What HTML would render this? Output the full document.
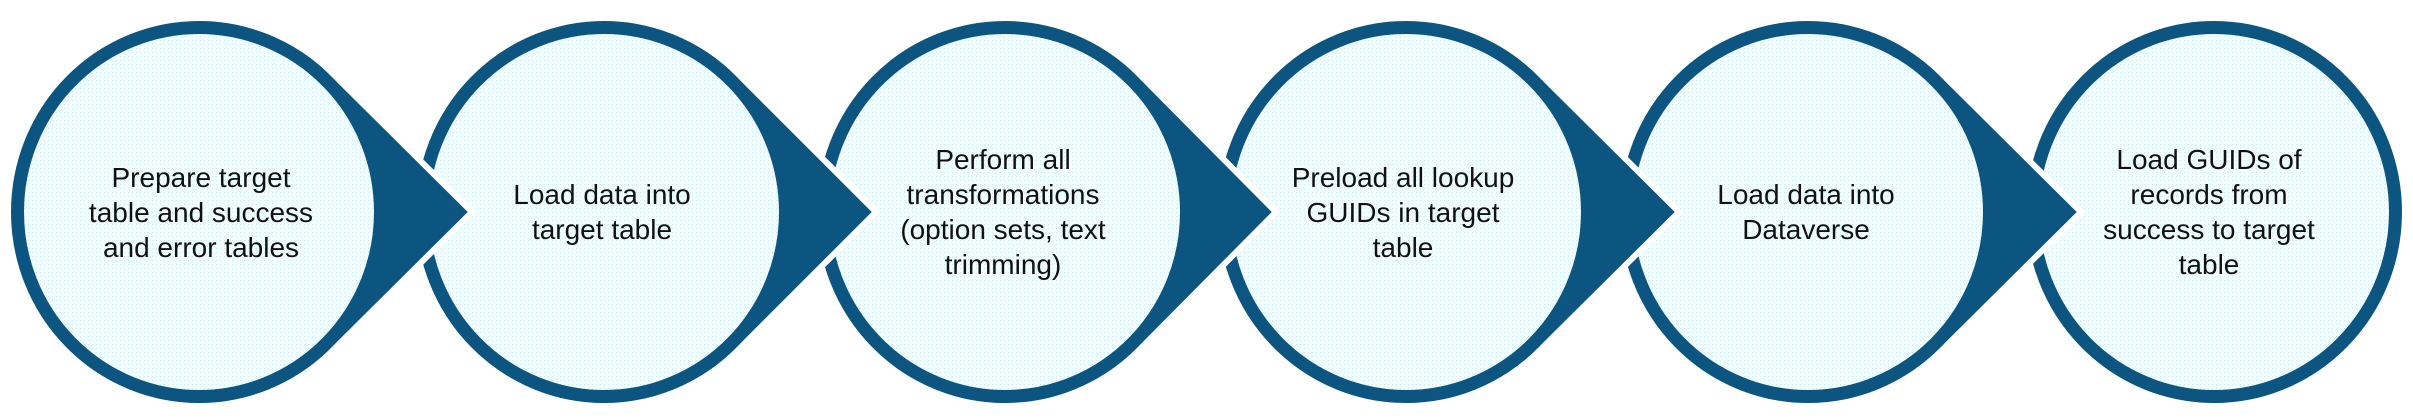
<!DOCTYPE html>
<html><head><meta charset="utf-8"><style>
html,body{margin:0;padding:0;background:#fff;width:2413px;height:420px;overflow:hidden}
svg{display:block}
text{font-family:"Liberation Sans",sans-serif;font-size:28px;fill:#111;text-anchor:middle}
</style></head><body>
<svg width="2413" height="420" viewBox="0 0 2413 420" xmlns="http://www.w3.org/2000/svg">
<defs>
<pattern id="dots" width="4" height="4" patternUnits="userSpaceOnUse">
<rect width="4" height="4" fill="#f3fbfd"/><rect width="1" height="1" fill="#c9eef7"/>
</pattern>
</defs>
<ellipse cx="2214" cy="212" rx="181.5" ry="184.5" fill="url(#dots)" stroke="#0b5580" stroke-width="13"/>

<polygon points="1940,72 2081,212 1940,352" fill="#0b5580" stroke="#fff" stroke-width="6"/>
<ellipse cx="1808" cy="212" rx="181.5" ry="184.5" fill="url(#dots)" stroke="#0b5580" stroke-width="13"/>

<polygon points="1538,72 1679,212 1538,352" fill="#0b5580" stroke="#fff" stroke-width="6"/>
<ellipse cx="1406" cy="212" rx="181.5" ry="184.5" fill="url(#dots)" stroke="#0b5580" stroke-width="13"/>

<polygon points="1137,72 1276,212 1137,352" fill="#0b5580" stroke="#fff" stroke-width="6"/>
<ellipse cx="1005" cy="212" rx="181.5" ry="184.5" fill="url(#dots)" stroke="#0b5580" stroke-width="13"/>

<polygon points="736,72 876,212 736,352" fill="#0b5580" stroke="#fff" stroke-width="6"/>
<ellipse cx="604" cy="212" rx="181.5" ry="184.5" fill="url(#dots)" stroke="#0b5580" stroke-width="13"/>

<polygon points="331,72 472,212 331,352" fill="#0b5580" stroke="#fff" stroke-width="6"/>
<ellipse cx="199" cy="212" rx="181.5" ry="184.5" fill="url(#dots)" stroke="#0b5580" stroke-width="13"/>

<text x="201" y="187">Prepare target</text>
<text x="201" y="222">table and success</text>
<text x="201" y="257">and error tables</text>

<text x="602" y="204">Load data into</text>
<text x="602" y="239">target table</text>

<text x="1003" y="169">Perform all</text>
<text x="1003" y="204">transformations</text>
<text x="1003" y="239">(option sets, text</text>
<text x="1003" y="274">trimming)</text>

<text x="1403" y="187">Preload all lookup</text>
<text x="1403" y="222">GUIDs in target</text>
<text x="1403" y="257">table</text>

<text x="1806" y="204">Load data into</text>
<text x="1806" y="239">Dataverse</text>

<text x="2209" y="169">Load GUIDs of</text>
<text x="2209" y="204">records from</text>
<text x="2209" y="239">success to target</text>
<text x="2209" y="274">table</text>
</svg>
</body></html>
